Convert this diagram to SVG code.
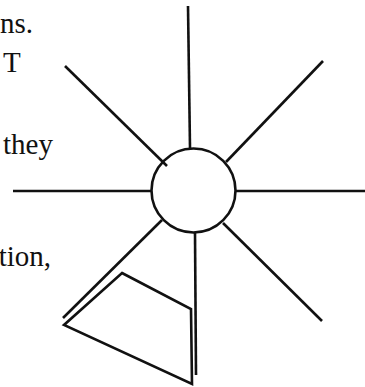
<svg xmlns="http://www.w3.org/2000/svg" width="365" height="387" viewBox="0 0 365 387">
<style>
.ln{stroke:#111;stroke-width:2.6;fill:none;stroke-linecap:butt;stroke-linejoin:miter}
.tx{font-family:"Liberation Serif","Times New Roman",serif;font-size:29px;fill:#111}
</style>
<rect width="365" height="387" fill="#fff"/>
<g id="text">
<text class="tx" x="0" y="33">ns.</text>
<text class="tx" x="3" y="72">T</text>
<text class="tx" x="3" y="154">they</text>
<text class="tx" x="51" y="266" text-anchor="end">tion,</text>
</g>
<g id="connectors">
<line class="ln" x1="188" y1="6" x2="190" y2="148"/>
<line class="ln" x1="323" y1="61" x2="226" y2="162"/>
<line class="ln" x1="235" y1="191" x2="365" y2="191"/>
<line class="ln" x1="13" y1="191" x2="152" y2="191"/>
<line class="ln" x1="65" y1="66" x2="167" y2="166"/>
<line class="ln" x1="162" y1="220" x2="63" y2="318"/>
<line class="ln" x1="195" y1="233" x2="196" y2="375"/>
<line class="ln" x1="223" y1="223" x2="322" y2="321"/>
</g>
<g id="hub">
<circle class="ln" cx="193.5" cy="190.5" r="42"/>
</g>
<g id="quad">
<polygon class="ln" points="122,273 191,309 192,384 64,325"/>
</g>
</svg>
